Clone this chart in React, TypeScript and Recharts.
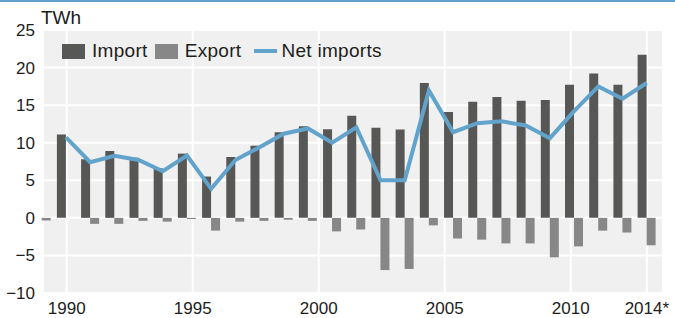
import {
  Bar,
  CartesianGrid,
  ComposedChart,
  Legend,
  Line,
  XAxis,
  YAxis,
} from 'recharts';

// electricity trade, TWh (1989 only shows its export bar at the left edge)
const years = [
  1989, 1990, 1991, 1992, 1993, 1994, 1995, 1996, 1997, 1998, 1999, 2000, 2001,
  2002, 2003, 2004, 2005, 2006, 2007, 2008, 2009, 2010, 2011, 2012, 2013, 2014,
];
const imports = [
  null, 11.1, 7.8, 8.9, 8.0, 6.6, 8.55, 5.5, 8.1, 9.6, 11.4, 12.2, 11.8,
  13.6, 12.0, 11.75, 17.95, 14.1, 15.45, 16.1, 15.6, 15.7, 17.7, 19.2, 17.7, 21.7,
];
const exports = [
  -0.35, null, -0.8, -0.8, -0.4, -0.5, -0.15, -1.7, -0.5, -0.4, -0.25, -0.4, -1.8,
  -1.55, -6.95, -6.8, -1.0, -2.75, -2.9, -3.4, -3.4, -5.25, -3.8, -1.7, -1.95, -3.65,
];
const netImports = [
  null, 10.7, 7.4, 8.25, 7.7, 6.2, 8.3, 3.86, 7.7, 9.4, 11.2, 11.9, 10.0,
  12.05, 5.0, 5.0, 16.95, 11.4, 12.6, 12.85, 12.3, 10.6, 14.2, 17.5, 15.85, 17.95,
];

const yTicks = [-10, -5, 0, 5, 10, 15, 20, 25];
// the label axis of the original is linear up to 2010, the last label sits short of its year
const labelTicks = [1990, 1995, 2000, 2005, 2010, 2013.02];
const labelTexts = ['1990', '1995', '2000', '2005', '2010', '2014*'];
const legendOrder = ['Import', 'Export', 'Net imports'];

const data = years.map((year, i) => ({
  year,
  import: imports[i],
  export: exports[i],
  net: netImports[i],
}));

const textColor = '#1d1d1b';

function LegendContent({ payload }: any) {
  const items = [...(payload || [])].sort(
    (a: any, b: any) => legendOrder.indexOf(a.value) - legendOrder.indexOf(b.value)
  );
  return (
    <div
      style={{
        display: 'flex',
        alignItems: 'center',
        fontSize: 19,
        letterSpacing: 0.3,
        color: textColor,
      }}
    >
      {items.map((p: any, i: number) => (
        <div
          key={p.value}
          style={{ display: 'flex', alignItems: 'center', marginRight: i === 1 ? 13 : 7 }}
        >
          {p.type === 'plainline' ? (
            <span style={{ width: 23, height: 4, background: p.color, marginRight: 4 }} />
          ) : (
            <span style={{ width: 23, height: 15, background: p.color, marginRight: 7 }} />
          )}
          <span>{p.value}</span>
        </div>
      ))}
    </div>
  );
}

export default function App() {
  return (
    <div
      style={{
        position: 'absolute',
        left: 0,
        top: 0,
        width: 675,
        height: 318,
        background: '#fff',
        fontFamily: '"Liberation Sans", Arial, sans-serif',
      }}
    >
      <div style={{ position: 'absolute', left: 0, top: 0, width: 675, height: 2, background: '#62a0cb' }} />
      <div style={{ position: 'absolute', left: 41, top: 7, fontSize: 19, color: textColor }}>TWh</div>
      <ComposedChart
        width={675}
        height={318}
        data={data}
        margin={{ top: 30, right: 12, bottom: 0, left: 0 }}
        barGap={0}
      >
        <CartesianGrid
          xAxisId="labels"
          fill="#f0f0f0"
          stroke="#ffffff"
          strokeWidth={2}
        />
        <XAxis
          xAxisId="labels"
          dataKey="year"
          type="number"
          domain={[1989.06, 2013.66]}
          allowDataOverflow
          ticks={labelTicks}
          tickFormatter={(v: number) => labelTexts[labelTicks.indexOf(v)]}
          interval={0}
          height={25}
          tickSize={0}
          tickMargin={9}
          axisLine={false}
          tickLine={false}
          tick={{ fill: textColor, fontSize: 17 }}
        />
        <XAxis
          xAxisId="cat"
          dataKey="year"
          type="category"
          hide
          height={0}
          padding={{ left: -13.3, right: 4.2 }}
        />
        <YAxis
          domain={[-10, 25]}
          ticks={yTicks}
          width={43}
          tickSize={0}
          tickMargin={8}
          axisLine={false}
          tickLine={false}
          tick={{ fill: textColor, fontSize: 17 }}
          tickFormatter={(v: number) => (v < 0 ? `\u2212${Math.abs(v)}` : `${v}`)}
        />
        <Legend
          layout="horizontal"
          verticalAlign="middle"
          align="center"
          wrapperStyle={{ top: 40, left: 62, width: 'auto' }}
          content={<LegendContent />}
        />
        <Bar
          xAxisId="cat"
          dataKey="import"
          name="Import"
          fill="#575756"
          barSize={9}
          legendType="square"
          isAnimationActive={false}
        />
        <Bar
          xAxisId="cat"
          dataKey="export"
          name="Export"
          fill="#878787"
          barSize={9}
          legendType="square"
          isAnimationActive={false}
        />
        <Line
          xAxisId="cat"
          dataKey="net"
          name="Net imports"
          type="linear"
          stroke="#62a3cb"
          strokeWidth={4}
          dot={false}
          activeDot={false}
          legendType="plainline"
          isAnimationActive={false}
        />
      </ComposedChart>
    </div>
  );
}
